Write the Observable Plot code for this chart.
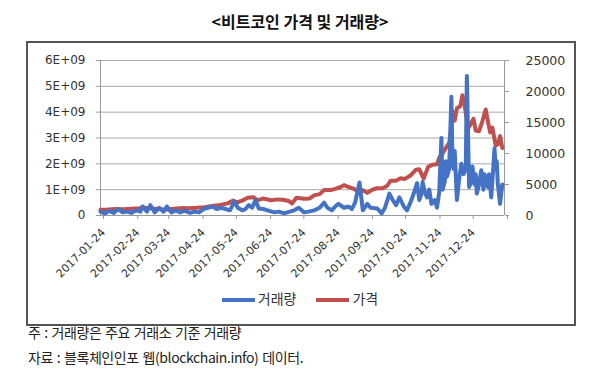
<!DOCTYPE html>
<html><head><meta charset="utf-8">
<script src="https://cdn.jsdelivr.net/npm/d3@7"></script>
<script src="https://cdn.jsdelivr.net/npm/@observablehq/plot@0.6"></script>
<style>
html,body{margin:0;padding:0;background:#fff;width:592px;height:380px;overflow:hidden;position:relative;}
#title{position:absolute;left:0;width:600px;top:9px;text-align:center;font:bold 16px "Noto Sans CJK KR";color:#111;}
#frame{position:absolute;left:26px;top:41px;width:546px;height:281px;border:2px solid #555;}
#chart{position:absolute;left:27px;top:42px;}
#legend{position:absolute;top:288px;left:0;width:600px;text-align:center;font:14px "Noto Sans CJK KR";color:#333;}
#legend span.item{display:inline-block;margin:0 10px;}
#legend i{display:inline-block;width:33px;height:4px;vertical-align:middle;margin-right:3px;}
.note{position:absolute;left:28px;font:14px "Noto Sans CJK KR";color:#222;letter-spacing:-0.4px;word-spacing:1px;}
</style></head>
<body>
<div id="title">&lt;비트코인 가격 및 거래량&gt;</div>
<div id="frame"></div>
<div id="chart"></div>
<div id="legend"><span class="item"><i style="background:#4472C4"></i>거래량</span><span class="item"><i style="background:#C0504D"></i>가격</span></div>
<div class="note" style="top:322px">주 : 거래량은 주요 거래소 기준 거래량</div>
<div class="note" style="top:347px">자료 : 블록체인인포 웹(blockchain.info) 데이터.</div>
<script>
const priceDates = ["2017-01-24","2017-01-31","2017-02-07","2017-02-14","2017-02-21","2017-02-28","2017-03-03","2017-03-10","2017-03-17","2017-03-24","2017-03-31","2017-04-07","2017-04-14","2017-04-21","2017-04-28","2017-05-05","2017-05-12","2017-05-19","2017-05-24","2017-05-27","2017-06-01","2017-06-06","2017-06-11","2017-06-15","2017-06-20","2017-06-27","2017-07-03","2017-07-08","2017-07-13","2017-07-16","2017-07-20","2017-07-27","2017-08-01","2017-08-05","2017-08-10","2017-08-14","2017-08-20","2017-08-24","2017-08-29","2017-09-01","2017-09-05","2017-09-10","2017-09-15","2017-09-18","2017-09-22","2017-09-27","2017-10-01","2017-10-06","2017-10-10","2017-10-13","2017-10-18","2017-10-22","2017-10-26","2017-10-31","2017-11-05","2017-11-08","2017-11-12","2017-11-16","2017-11-20","2017-11-24","2017-11-26","2017-11-29","2017-12-02","2017-12-05","2017-12-07","2017-12-08","2017-12-10","2017-12-12","2017-12-15","2017-12-17","2017-12-19","2017-12-22","2017-12-24","2017-12-27","2017-12-29","2018-01-01","2018-01-04","2018-01-07","2018-01-09","2018-01-11","2018-01-13","2018-01-16","2018-01-18","2018-01-20","2018-01-22"];
const priceValues = [920,970,1050,1000,1100,1190,1280,1150,1050,930,1080,1190,1180,1240,1330,1550,1700,1950,2400,2100,2400,2850,2950,2450,2750,2450,2600,2550,2350,1950,2850,2700,2750,3250,3450,4100,4100,4300,4600,4900,4600,4300,3700,4100,3650,4200,4400,4400,4800,5600,5600,6000,5900,6450,7400,7450,5950,7850,8200,8250,9300,10000,10900,11700,14000,16800,15300,17300,17600,19400,17800,14000,14600,15600,13700,13600,15200,17100,15200,13400,14200,11300,11500,12800,10900];

const volumeDates = ["2017-01-24","2017-01-28","2017-02-01","2017-02-05","2017-02-09","2017-02-13","2017-02-17","2017-02-21","2017-02-25","2017-03-01","2017-03-03","2017-03-07","2017-03-10","2017-03-14","2017-03-18","2017-03-22","2017-03-25","2017-03-29","2017-04-02","2017-04-06","2017-04-10","2017-04-15","2017-04-19","2017-04-23","2017-04-27","2017-05-01","2017-05-05","2017-05-09","2017-05-13","2017-05-17","2017-05-21","2017-05-25","2017-05-28","2017-06-01","2017-06-04","2017-06-07","2017-06-10","2017-06-13","2017-06-16","2017-06-20","2017-06-24","2017-06-30","2017-07-04","2017-07-09","2017-07-14","2017-07-18","2017-07-22","2017-07-27","2017-07-31","2017-08-05","2017-08-10","2017-08-14","2017-08-17","2017-08-21","2017-08-24","2017-08-27","2017-09-01","2017-09-05","2017-09-08","2017-09-11","2017-09-15","2017-09-18","2017-09-22","2017-09-25","2017-10-01","2017-10-05","2017-10-08","2017-10-12","2017-10-15","2017-10-18","2017-10-21","2017-10-25","2017-10-28","2017-10-31","2017-11-03","2017-11-06","2017-11-08","2017-11-10","2017-11-11","2017-11-13","2017-11-15","2017-11-17","2017-11-19","2017-11-22","2017-11-24","2017-11-26","2017-11-28","2017-11-29","2017-12-01","2017-12-02","2017-12-03","2017-12-05","2017-12-07","2017-12-08","2017-12-09","2017-12-10","2017-12-12","2017-12-14","2017-12-16","2017-12-18","2017-12-20","2017-12-21","2017-12-23","2017-12-25","2017-12-26","2017-12-28","2017-12-29","2017-12-30","2018-01-01","2018-01-03","2018-01-05","2018-01-06","2018-01-08","2018-01-09","2018-01-10","2018-01-12","2018-01-13","2018-01-15","2018-01-16","2018-01-17","2018-01-18","2018-01-20","2018-01-22"];
const volumeValues = [0.15,0.08,0.18,0.10,0.25,0.12,0.15,0.10,0.20,0.15,0.35,0.15,0.40,0.12,0.30,0.15,0.35,0.12,0.20,0.12,0.18,0.10,0.15,0.12,0.25,0.30,0.35,0.25,0.30,0.25,0.20,0.55,0.30,0.20,0.25,0.40,0.30,0.60,0.27,0.25,0.20,0.12,0.15,0.08,0.15,0.20,0.30,0.12,0.15,0.20,0.30,0.50,0.30,0.20,0.35,0.45,0.30,0.35,0.25,0.50,1.28,0.20,0.45,0.30,0.27,0.08,0.30,0.85,0.60,0.40,0.70,0.35,0.20,0.50,0.85,1.25,0.60,0.85,1.30,0.90,0.70,1.00,0.45,0.60,0.30,0.90,3.00,1.00,1.30,2.10,1.50,1.80,4.60,2.10,1.80,2.50,0.60,1.40,2.00,1.60,1.80,5.40,1.10,1.30,1.90,1.20,1.60,0.85,1.20,1.75,1.00,1.60,1.20,1.10,1.60,0.70,1.30,2.60,1.80,2.10,1.20,0.45,1.20];

const leftTicks = [0,1e9,2e9,3e9,4e9,5e9,6e9];
const rightTicks = [0,5000,10000,15000,20000,25000];
const monthTicks = ["2017-01-24","2017-02-24","2017-03-24","2017-04-24","2017-05-24","2017-06-24","2017-07-24","2017-08-24","2017-09-24","2017-10-24","2017-11-24","2017-12-24"];
const axisEnd = "2018-01-24";

const K = 6e9 / 25000;
const price = priceDates.map((d,i)=>({date:new Date(d), v:priceValues[i]*K}));
const volume = volumeDates.map((d,i)=>({date:new Date(d), v:volumeValues[i]*1e9}));
const xTicks = monthTicks.concat([axisEnd]).map(d=>new Date(d));
const fmt = d3.utcFormat("%Y-%m-%d");

const chart = Plot.plot({
  width: 548, height: 240,
  marginLeft: 73, marginRight: 71, marginTop: 18, marginBottom: 67,
  style: {fontFamily: "DejaVu Sans", fontSize: "12px", color: "#333", background: "transparent"},
  x: {type: "utc", domain: [new Date(monthTicks[0]), new Date(axisEnd)]},
  y: {domain: [0, 6e9]},
  marks: [
    Plot.gridY(leftTicks, {stroke: "#aaa", strokeOpacity: 1}),
    Plot.axisY({ticks: leftTicks, tickFormat: d => d === 0 ? "0" : (d/1e9) + "E+09", tickSize: 4, tickPadding: 11, stroke: "#999", label: null}),
    Plot.axisY({anchor: "right", ticks: rightTicks.map(v => v*K), tickFormat: d => String(Math.round(d/K)), tickSize: 4, tickPadding: 17, fontSize: 12.5, stroke: "#999", label: null}),
    Plot.axisX({ticks: xTicks, tickFormat: d => +d === +new Date(axisEnd) ? "" : fmt(d), tickRotate: -45, tickSize: 4, tickPadding: 11, dx: 3, fontSize: 11, stroke: "#999", label: null}),
    Plot.ruleX([new Date(monthTicks[0]), new Date(axisEnd)], {stroke: "#999"}),
    Plot.ruleY([0], {stroke: "#999"}),
    Plot.line(price, {x: "date", y: "v", stroke: "#C0504D", strokeWidth: 4}),
    Plot.line(volume, {x: "date", y: "v", stroke: "#4472C4", strokeWidth: 4})
  ]
});
document.getElementById("chart").appendChild(chart);
</script>
</body></html>
